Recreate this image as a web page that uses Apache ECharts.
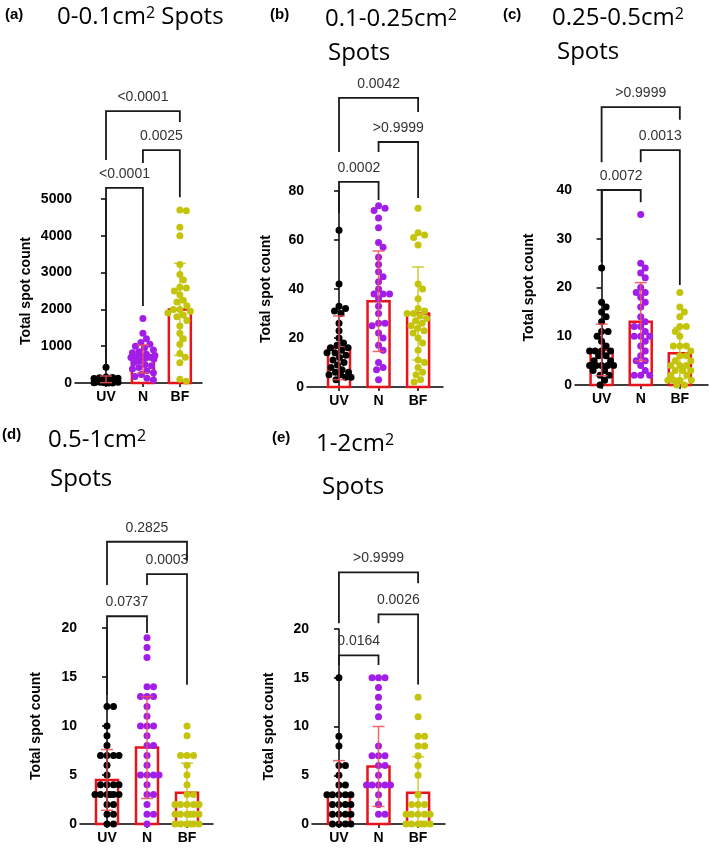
<!DOCTYPE html>
<html>
<head>
<meta charset="utf-8">
<script src="https://cdn.jsdelivr.net/npm/echarts@6/dist/echarts.min.js"></script>
<style>
  html, body { margin: 0; background: #fff; }
  #main { width: 709px; height: 850px; }
</style>
</head>
<body>
<div id="main"></div>
<script>
var groups = ['UV', 'N', 'BF'];

// (a) 0-0.1cm2 spots
var uvA = [430, 160, 150, 140, 130, 120, 120, 110, 100, 100, 90, 90, 80, 80, 70, 70, 60, 60, 50, 50, 40, 40, 30, 30, 20, 20, 10, 10, 0, 0];
var nA = [1750, 1350, 1200, 1100, 1050, 1000, 950, 900, 850, 820, 780, 750, 720, 700, 700, 690, 680, 650, 600, 560, 500, 470, 420, 380, 330, 280, 230, 180, 130, 80];
var bfA = [4700, 4680, 4230, 4000, 3220, 2950, 2800, 2600, 2580, 2500, 2400, 2250, 2200, 2100, 2000, 2000, 1950, 1900, 1850, 1800, 1700, 1550, 1350, 1200, 1050, 800, 700, 550, 100, 50];
var meanA = [100, 650, 2000];
var sdA = [90, 380, 1250];
var pA = ['<0.0001', '0.0025', '<0.0001'];
// brackets: from, to, top, left leg end, right leg end (y units)
var brA = [[0, 1, 5300, 490, 2090], [1, 2, 6330, 5980, 5050], [0, 2, 7390, 6060, 7090]];

// (b) 0.1-0.25cm2 spots
var uvB = [64, 42, 33, 32, 31, 30, 26, 23, 20, 18, 17, 16, 16, 15, 14, 14, 13, 12, 11, 10, 9, 8, 7, 6, 6, 5, 5, 4, 4, 3];
var nB = [74, 73, 72, 69, 65, 59, 57, 53, 50, 47, 45, 43, 40, 38, 38, 38, 36, 33, 30, 26, 26, 25, 22, 20, 17, 15, 10, 8, 7, 3];
var bfB = [73, 63, 62, 61, 58, 42, 40, 36, 32, 31, 30, 30, 29, 28, 27, 26, 25, 24, 23, 22, 20, 18, 15, 11, 10, 8, 6, 5, 3, 2];
var meanB = [16, 35, 30];
var sdB = [13, 20.5, 19];
var pB = ['0.0002', '>0.9999', '0.0042'];
var brB = [[0, 1, 83.7, 71, 76.3], [1, 2, 100, 95.9, 77.1], [0, 2, 118, 95.9, 112.2]];

// (c) 0.25-0.5cm2 spots
var uvC = [24, 17, 16, 15, 14, 13, 11, 11, 10, 9, 8, 7, 7, 7, 7, 6, 6, 5, 5, 4, 4, 4, 4, 4, 3, 3, 2, 2, 1, 0];
var nC = [35, 25, 24, 23, 22, 20, 19, 19, 18, 17, 16, 14, 13, 12, 12, 11, 10, 10, 10, 9, 8, 7, 6, 5, 5, 4, 3, 2, 2, 2];
var bfC = [19, 16, 15, 14, 12, 12, 11, 10, 8, 8, 8, 7, 6, 6, 5, 5, 4, 4, 4, 3, 3, 3, 2, 2, 1, 1, 1, 1, 0, 0];
var meanC = [7.2, 13, 6.5];
var sdC = [5.3, 8, 5.3];
var pC = ['0.0072', '0.0013', '>0.9999'];
var brC = [[0, 1, 40, 25.2, 37.5], [1, 2, 48.2, 45.7, 20.5], [0, 2, 57, 45.7, 54.4]];

// (d) 0.5-1cm2 spots
var uvD = [12, 12, 10, 9, 8, 7, 7, 7, 7, 6, 5, 4, 4, 4, 4, 3, 3, 3, 3, 3, 3, 2, 2, 1, 1, 0, 0];
var nD = [19, 18, 17, 14, 14, 13, 13, 13, 12, 11, 10, 10, 10, 9, 8, 8, 7, 6, 5, 5, 5, 5, 4, 3, 3, 2, 1, 1, 0];
var bfD = [10, 9, 7, 7, 7, 6, 5, 4, 3, 3, 2, 2, 2, 2, 2, 1, 1, 1, 1, 1, 1, 0, 0, 0, 0, 0, 0];
var meanD = [4.5, 7.8, 3.2];
var sdD = [3.1, 5.2, 3];
var pD = ['0.0737', '0.0003', '0.2825'];
var brD = [[0, 1, 21.2, 13.2, 19.5], [1, 2, 25.5, 24.4, 14.2], [0, 2, 28.8, 24.4, 26.9]];

// (e) 1-2cm2 spots
var uvE = [15, 9, 8, 6, 6, 5, 4, 4, 3, 3, 3, 3, 3, 2, 2, 2, 2, 1, 1, 1, 1, 0, 0, 0, 0];
var nE = [15, 15, 15, 14, 13, 12, 11, 8, 7, 7, 7, 6, 6, 5, 4, 4, 4, 4, 4, 3, 2, 1, 1];
var bfE = [13, 11, 9, 9, 8, 8, 7, 6, 5, 3, 2, 2, 2, 1, 1, 1, 1, 1, 0, 0, 0, 0, 0, 0];
var meanE = [3, 5.9, 3.2];
var sdE = [3.5, 4.1, 3.7];
var pE = ['0.0164', '0.0026', '>0.9999'];
var brE = [[0, 1, 17.3, 16.3, 16.3], [1, 2, 21.5, 20.6, 14.3], [0, 2, 25.8, 20.6, 24.7]];

var tags = ['(a)', '(b)', '(c)', '(d)', '(e)'];
var titleLines = [
  ['0-0.1cm{s|2} Spots'],
  ['0.1-0.25cm{s|2}', 'Spots'],
  ['0.25-0.5cm{s|2}', 'Spots'],
  ['0.5-1cm{s|2}', 'Spots'],
  ['1-2cm{s|2}', 'Spots']
];

var dotColors = ['#000000', '#a21ee8', '#c4c40c'];
var errColors = ['#ef4f55', '#ef4f55', '#c4c40c'];
var red = '#e8141c';
var sans = '"Liberation Sans", Arial, sans-serif';

var panels = [
  { grid: { left: 75, top: 199, width: 127, height: 184 }, xMin: -0.84, xMax: 2.6, yMax: 5000, yInt: 1000, gap: 42,
    data: [uvA, nA, bfA], mean: meanA, sd: sdA, p: pA, br: brA,
    tag: [5, 15], lines: [[57, 17]] },
  { grid: { left: 307, top: 191, width: 136, height: 196 }, xMin: -0.81, xMax: 2.63, yMax: 80, yInt: 20, gap: 34,
    data: [uvB, nB, bfB], mean: meanB, sd: sdB, p: pB, br: brB,
    tag: [270, 15], lines: [[325, 19], [328, 53]] },
  { grid: { left: 575, top: 190, width: 133, height: 195 }, xMin: -0.68, xMax: 2.72, yMax: 40, yInt: 10, gap: 39,
    data: [uvC, nC, bfC], mean: meanC, sd: sdC, p: pC, br: brC,
    tag: [503, 15], lines: [[552, 18], [557, 52]] },
  { grid: { left: 80, top: 628, width: 133, height: 196 }, xMin: -0.675, xMax: 2.65, yMax: 20, yInt: 5, gap: 37,
    data: [uvD, nD, bfD], mean: meanD, sd: sdD, p: pD, br: brD,
    tag: [2, 435], lines: [[48, 440], [50, 479]] },
  { grid: { left: 312, top: 629, width: 133, height: 195 }, xMin: -0.68, xMax: 2.68, yMax: 20, yInt: 5, gap: 36,
    data: [uvE, nE, bfE], mean: meanE, sd: sdE, p: pE, br: brE,
    tag: [272, 438], lines: [[316, 444], [322, 487]] }
];

// simple beeswarm: spread points sideways (px) so dots don't overlap
function swarm(vals, pxY, d, maxHalf) {
  var placed = [];
  var out = [];
  vals.forEach(function (v) {
    var y = v * pxY, best = 0, bestD = -1;
    for (var k = 0; k <= maxHalf * 4; k++) {
      var x = (k % 2 ? 1 : -1) * Math.ceil(k / 2) * 0.5;
      var md = Infinity;
      placed.forEach(function (p) {
        var dd = Math.sqrt((p[0] - x) * (p[0] - x) + (p[1] - y) * (p[1] - y));
        if (dd < md) md = dd;
      });
      if (md >= d) { best = x; break; }
      if (md > bestD) { bestD = md; best = x; }
    }
    placed.push([best, y]);
    out.push([best, v]);
  });
  return out;
}

var option = { animation: false, grid: [], xAxis: [], yAxis: [], series: [], graphic: [] };

panels.forEach(function (pn, i) {
  option.grid.push(Object.assign({ containLabel: false, outerBoundsMode: 'none' }, pn.grid));
  option.xAxis.push({
    type: 'value', gridIndex: i, min: pn.xMin, max: pn.xMax,
    splitLine: { show: false },
    axisLine: { show: true, onZero: false, lineStyle: { color: '#000', width: 1.5 } },
    axisTick: { show: true, customValues: [0, 1, 2], length: 4, lineStyle: { color: '#000', width: 1.5 } },
    axisLabel: { customValues: [0, 1, 2], formatter: function (v) { return groups[Math.round(v)]; },
      color: '#000', fontWeight: 'bold', fontSize: 14, fontFamily: sans, margin: 7 }
  });
  option.yAxis.push({
    type: 'value', gridIndex: i, min: 0, max: pn.yMax, interval: pn.yInt,
    name: 'Total spot count', nameLocation: 'middle', nameGap: pn.gap,
    nameTextStyle: { color: '#000', fontWeight: 'bold', fontSize: 14, fontFamily: sans },
    splitLine: { show: false },
    axisLine: { show: true, lineStyle: { color: '#000', width: 1.5 } },
    axisTick: { show: true, length: 5, lineStyle: { color: '#000', width: 1.5 } },
    axisLabel: { color: '#000', fontWeight: 'bold', fontSize: 14, fontFamily: sans, margin: 3,
      formatter: function (v) { return String(v); } }
  });

  var pxY = pn.grid.height / pn.yMax;
  var pxX = pn.grid.width / (pn.xMax - pn.xMin);

  // mean bars
  option.series.push({
    type: 'custom', xAxisIndex: i, yAxisIndex: i, z: 2, clip: false,
    data: pn.mean.map(function (m, j) { return [j, m]; }),
    renderItem: function (params, api) {
      var p0 = api.coord([api.value(0), 0]);
      var p1 = api.coord([api.value(0), api.value(1)]);
      return { type: 'rect', shape: { x: p0[0] - 11, y: p1[1], width: 22, height: p0[1] - p1[1] },
        style: { fill: 'none', stroke: red, lineWidth: 2.5 } };
    }
  });

  // points
  pn.data.forEach(function (vals, j) {
    option.series.push({
      type: 'scatter', xAxisIndex: i, yAxisIndex: i, z: 3, symbolSize: 7,
      itemStyle: { color: dotColors[j], opacity: 1 },
      data: swarm(vals, pxY, 6.5, 12).map(function (p) { return [j + p[0] / pxX, p[1]]; })
    });
  });

  // SD error bars
  option.series.push({
    type: 'custom', xAxisIndex: i, yAxisIndex: i, z: 4, clip: false,
    data: pn.mean.map(function (m, j) { return [j, m, pn.sd[j]]; }),
    renderItem: function (params, api) {
      var x = api.value(0), m = api.value(1), s = api.value(2);
      var lo = api.coord([x, Math.max(0, m - s)]);
      var hi = api.coord([x, m + s]);
      var st = { stroke: errColors[params.dataIndex], lineWidth: 1.5, opacity: 0.85 };
      var kids = [
        { type: 'line', shape: { x1: lo[0], y1: lo[1], x2: hi[0], y2: hi[1] }, style: st },
        { type: 'line', shape: { x1: hi[0] - 6, y1: hi[1], x2: hi[0] + 6, y2: hi[1] }, style: st }
      ];
      if (m - s > 0) {
        kids.push({ type: 'line', shape: { x1: lo[0] - 6, y1: lo[1], x2: lo[0] + 6, y2: lo[1] }, style: st });
      }
      return { type: 'group', children: kids };
    }
  });

  // significance brackets
  option.series.push({
    type: 'custom', xAxisIndex: i, yAxisIndex: i, z: 5, clip: false,
    data: pn.br,
    renderItem: function (params, api) {
      var a0 = api.coord([api.value(0), api.value(3)]);
      var a1 = api.coord([api.value(0), api.value(2)]);
      var b1 = api.coord([api.value(1), api.value(2)]);
      var b0 = api.coord([api.value(1), api.value(4)]);
      return { type: 'group', children: [
        { type: 'polyline', shape: { points: [a0, a1, b1, b0] },
          style: { stroke: '#1a1a1a', lineWidth: 1.8, fill: 'none' } },
        { type: 'text', style: { text: pn.p[params.dataIndex], x: (a1[0] + b1[0]) / 2, y: a1[1] - 7,
          align: 'center', verticalAlign: 'bottom', font: '14px ' + sans, fill: '#333' } }
      ] };
    }
  });

  // panel tag and title
  option.graphic.push({ type: 'text', x: pn.tag[0], y: pn.tag[1],
    style: { text: tags[i], font: 'bold 15px ' + sans, fill: '#000', verticalAlign: 'middle' } });
  titleLines[i].forEach(function (t, k) {
    option.graphic.push({ type: 'text', x: pn.lines[k][0], y: pn.lines[k][1],
      style: { text: t, font: '24px "Open Sans", sans-serif', fill: '#000', verticalAlign: 'middle',
        rich: { s: { fontSize: 16, fontFamily: 'Open Sans', fill: '#000', verticalAlign: 'top' } } } });
  });
});

var chart = echarts.init(document.getElementById('main'));
chart.setOption(option);
</script>
</body>
</html>
